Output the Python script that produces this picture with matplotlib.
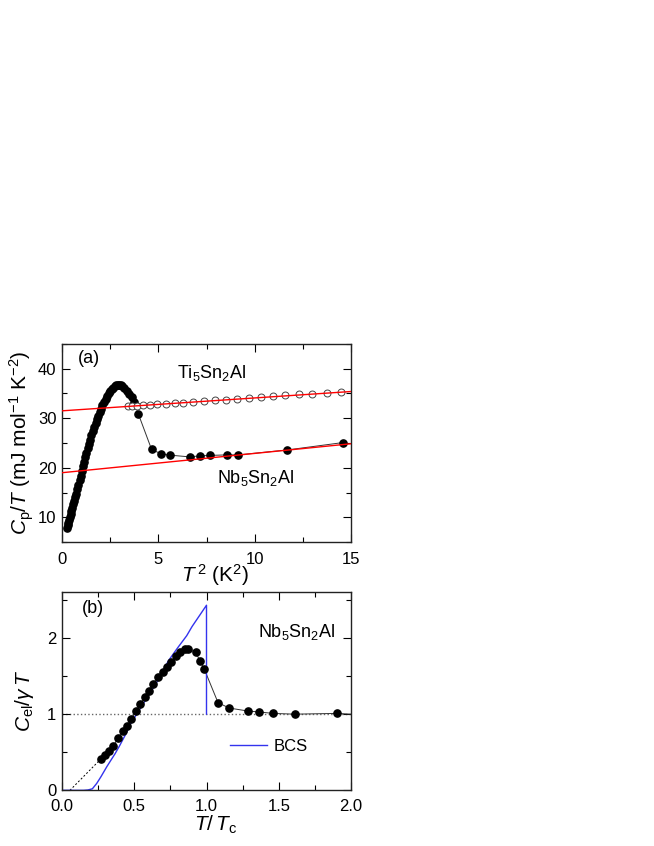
import matplotlib
matplotlib.use("Agg")
import matplotlib.pyplot as plt

plt.rcParams["font.family"] = ["Liberation Sans", "DejaVu Sans"]
plt.rcParams["mathtext.fontset"] = "custom"
plt.rcParams["mathtext.rm"] = "Liberation Sans"
plt.rcParams["mathtext.it"] = "Liberation Sans:italic"

# ---------------------------------------------------------
# panel (a): Cp/T vs T^2
# ---------------------------------------------------------
nb_t2 = [0.25, 0.29, 0.33, 0.37, 0.41, 0.45, 0.49, 0.53, 0.58, 0.63, 0.68, 0.73,
         0.79, 0.85, 0.91, 0.97, 1.03, 1.09, 1.15, 1.21, 1.27, 1.33, 1.39, 1.46,
         1.53, 1.60, 1.67, 1.74, 1.81, 1.88, 1.95, 2.02, 2.10, 2.18, 2.26, 2.34,
         2.42, 2.50, 2.58, 2.66, 2.74, 2.82, 2.90, 2.98, 3.06, 3.14, 3.22, 3.35,
         3.50, 3.62, 3.75, 3.96, 4.65, 5.15, 5.60, 6.62, 7.15, 7.70, 8.58, 9.15,
         11.70, 14.60]
nb_cp = [7.9, 8.4, 8.9, 9.5, 10.0, 10.6, 11.2, 11.8, 12.6, 13.3, 14.0, 14.8,
         15.7, 16.6, 17.5, 18.4, 19.3, 20.3, 21.2, 22.1, 23.0, 23.9, 24.8, 25.7,
         26.6, 27.4, 28.2, 29.0, 29.8, 30.5, 31.2, 31.9, 32.6, 33.3, 33.9, 34.5,
         35.0, 35.5, 35.9, 36.2, 36.5, 36.7, 36.8, 36.8, 36.7, 36.5, 36.2, 35.6,
         34.9, 34.2, 33.3, 30.9, 23.7, 22.8, 22.55, 22.2, 22.4, 22.5, 22.6, 22.6,
         23.6, 25.1]

ti_t2 = [3.40, 3.65, 3.90, 4.20, 4.55, 4.95, 5.40, 5.85, 6.30, 6.80, 7.35, 7.95,
         8.50, 9.10, 9.70, 10.35, 10.95, 11.60, 12.30, 13.00, 13.75, 14.50]
ti_cp = [32.4, 32.5, 32.5, 32.6, 32.7, 32.8, 32.9, 33.0, 33.1, 33.3, 33.4, 33.6,
         33.7, 33.9, 34.1, 34.2, 34.4, 34.6, 34.8, 34.9, 35.1, 35.3]

# linear fits gamma + beta*T^2
fit_t2 = [0, 15]
ti_fit = [31.5, 35.4]
nb_fit = [19.0, 24.85]

# ---------------------------------------------------------
# panel (b): Cel/gammaT vs T/Tc
# ---------------------------------------------------------
red_t = [0.268, 0.300, 0.327, 0.355, 0.388, 0.420, 0.450, 0.480, 0.512, 0.540,
         0.572, 0.600, 0.632, 0.662, 0.697, 0.724, 0.754, 0.790, 0.817, 0.851,
         0.874, 0.925, 0.955, 0.985, 1.080, 1.158, 1.290, 1.360, 1.460, 1.610,
         1.905]
red_c = [0.41, 0.46, 0.52, 0.58, 0.69, 0.775, 0.85, 0.94, 1.04, 1.13,
         1.22, 1.31, 1.40, 1.49, 1.56, 1.625, 1.68, 1.77, 1.81, 1.855,
         1.855, 1.81, 1.70, 1.59, 1.15, 1.08, 1.04, 1.03, 1.01, 1.00,
         1.01]
# guide to the eye through the data, running to the right edge
guide_t = red_t + [2.0]
guide_c = red_c + [1.0]

# low-T extrapolation to zero
extrap_t = [0.055, 0.268]
extrap_c = [0.0, 0.41]

bcs_t = [0.0, 0.10, 0.15, 0.18, 0.21, 0.24, 0.27, 0.31, 0.34, 0.367, 0.40,
         0.425, 0.45, 0.475, 0.517, 0.55, 0.60, 0.65, 0.70, 0.736, 0.80,
         0.863, 0.90, 0.95, 1.0, 1.0]
bcs_c = [0.0, 0.0, 0.0, 0.005, 0.02, 0.09, 0.18, 0.31, 0.40, 0.48, 0.59,
         0.68, 0.77, 0.875, 1.0, 1.1, 1.25, 1.40, 1.57, 1.70, 1.87,
         2.03, 2.15, 2.29, 2.43, 1.0]

normal_t = [0, 2]
normal_c = [1, 1]


def style_axes(ax):
    ax.tick_params(which="both", direction="in", top=True, right=True,
                   labelsize=12, width=0.8)
    ax.tick_params(which="major", length=6, pad=4)
    ax.tick_params(which="minor", length=3.5)
    for s in ax.spines.values():
        s.set_linewidth(1.0)
        s.set_color("#222222")


fig = plt.figure(figsize=(6.54, 8.46), dpi=100)

# =========================================================
# (a)
# =========================================================
ax1 = fig.add_axes([0.0948, 0.3593, 0.4419, 0.2341])

ax1.plot(nb_t2, nb_cp, "-", color="#333333", lw=0.7, zorder=2)
ax1.plot(nb_t2, nb_cp, "o", color="black", ms=5.2, zorder=3)
ax1.plot(ti_t2, ti_cp, "o", mfc="white", mec="#444444", mew=0.7, ms=5.0, zorder=3)
ax1.plot(fit_t2, ti_fit, "-", color="red", lw=1.0, zorder=4)
ax1.plot(fit_t2, nb_fit, "-", color="red", lw=1.0, zorder=4)

ax1.set_xlim(0, 15)
ax1.set_ylim(5, 45)
ax1.set_xticks([0, 5, 10, 15])
ax1.set_xticks([2.5, 7.5, 12.5], minor=True)
ax1.set_yticks([10, 20, 30, 40])
ax1.set_yticks([5, 15, 25, 35, 45], minor=True)
style_axes(ax1)
ax1.tick_params(axis="x", which="major", pad=7)

ax1.set_xlabel("$T^{\\,2}$ (K$^2$)", fontsize=15)
ax1.xaxis.set_label_coords(0.53, -0.1)
ax1.set_ylabel("$C_\\mathrm{p}$/$T$ (mJ mol$^{-1}$ K$^{-2}$)", fontsize=15)
ax1.yaxis.set_label_coords(-0.09, 0.5)

ax1.text(0.055, 0.905, "(a)", transform=ax1.transAxes, fontsize=13)
ax1.text(5.97, 38.2, "Ti$_5$Sn$_2$Al", fontsize=13)
ax1.text(8.03, 16.9, "Nb$_5$Sn$_2$Al", fontsize=13)

# =========================================================
# (b)
# =========================================================
ax2 = fig.add_axes([0.0948, 0.0658, 0.4419, 0.2341])

ax2.plot(normal_t, normal_c, ":", color="#666666", lw=1.0, zorder=1)
ax2.plot(extrap_t, extrap_c, "--", color="black", lw=0.7, dashes=(2, 2), zorder=1)
ax2.plot(guide_t, guide_c, "-", color="#333333", lw=0.7, zorder=2)
ax2.plot(red_t, red_c, "o", color="black", ms=5.2, zorder=3)
ax2.plot(bcs_t, bcs_c, "-", color="#3333ee", lw=1.0, label="BCS", zorder=2)

ax2.set_xlim(0, 2)
ax2.set_ylim(0, 2.6)
ax2.set_xticks([0, 0.5, 1.0, 1.5, 2.0])
ax2.set_xticklabels(["0.0", "0.5", "1.0", "1.5", "2.0"])
ax2.set_xticks([0.25, 0.75, 1.25, 1.75], minor=True)
ax2.set_yticks([0, 1, 2])
ax2.set_yticks([0.5, 1.5, 2.5], minor=True)
style_axes(ax2)
ax2.tick_params(axis="x", which="major", pad=6)

ax2.set_xlabel("$T$/$\\,T_\\mathrm{c}$", fontsize=15)
ax2.xaxis.set_label_coords(0.53, -0.12)
ax2.set_ylabel("$C_\\mathrm{el}$/$\\gamma\\,T$", fontsize=15)
ax2.yaxis.set_label_coords(-0.09, 0.45)

ax2.text(0.068, 0.894, "(b)", transform=ax2.transAxes, fontsize=13)
ax2.text(0.679, 0.773, "Nb$_5$Sn$_2$Al", transform=ax2.transAxes, fontsize=13)

ax2.legend(loc="center left", bbox_to_anchor=(0.53, 0.22), frameon=False,
           fontsize=12, handlelength=2.2, handletextpad=0.4)

fig.savefig("out.png", dpi=100)
